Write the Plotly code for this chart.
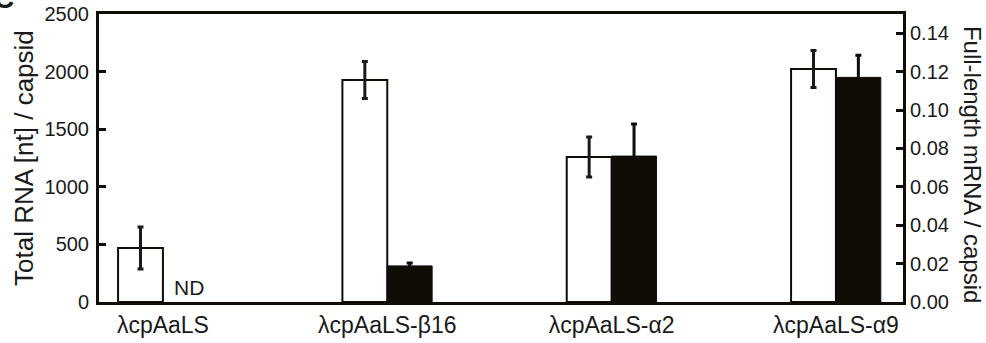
import plotly.graph_objects as go

categories = ["λcpAaLS", "λcpAaLS-β16", "λcpAaLS-α2", "λcpAaLS-α9"]
total_rna = [469, 1927, 1259, 2023]
total_rna_err = [182, 160, 174, 160]
mrna = [None, 0.0188, 0.0760, 0.1170]
mrna_err = [None, 0.0015, 0.0167, 0.0115]
left_ticks = [0, 500, 1000, 1500, 2000, 2500]
right_ticks = [0.00, 0.02, 0.04, 0.06, 0.08, 0.10, 0.12, 0.14]

FONT = "Liberation Sans, Arial, Helvetica, sans-serif"
INK = "#1a1a1a"
DARK = "#100d06"

fig = go.Figure()
fig.add_trace(go.Bar(
    x=categories, y=total_rna, yaxis="y",
    width=0.2, offset=-0.2,
    marker=dict(color="white", line=dict(color=DARK, width=2)),
    error_y=dict(type="data", array=total_rna_err, color=INK, thickness=3, width=3),
    showlegend=False,
))
fig.add_trace(go.Bar(
    x=categories, y=mrna, yaxis="y2",
    width=0.2, offset=0,
    marker=dict(color=DARK, line=dict(color=DARK, width=1)),
    error_y=dict(type="data", array=mrna_err, color=DARK, thickness=3, width=3),
    showlegend=False,
))

fig.update_layout(
    width=986, height=343,
    margin=dict(l=99, r=83, t=14, b=41, autoexpand=False),
    paper_bgcolor="white", plot_bgcolor="white",
    font=dict(family=FONT, color=INK),
    xaxis=dict(
        type="category", range=[-0.285, 3.299], automargin=False,
        showline=True, linewidth=3, linecolor=DARK, mirror=True,
        ticks="", showgrid=False, zeroline=False,
        tickfont=dict(size=23, family=FONT, color=INK),
    ),
    yaxis=dict(
        range=[0, 2500], tickvals=left_ticks, automargin=False,
        ticklabeloverflow="allow", ticklabelstandoff=3,
        showline=True, linewidth=3, linecolor=DARK,
        ticks="inside", ticklen=7, tickwidth=3, tickcolor=DARK,
        showgrid=False, zeroline=False,
        tickfont=dict(size=20, family=FONT, color=INK),
    ),
    yaxis2=dict(
        overlaying="y", side="right", automargin=False,
        ticklabeloverflow="allow",
        range=[0, 0.15], tickvals=right_ticks, tickformat=".2f",
        showline=True, linewidth=3, linecolor=DARK,
        ticks="inside", ticklen=7, tickwidth=3, tickcolor=DARK,
        showgrid=False, zeroline=False,
        tickfont=dict(size=20, family=FONT, color=INK),
    ),
    annotations=[
        dict(text="Total RNA [nt] / capsid", xref="paper", yref="paper",
             x=-0.0933, y=0.5, xanchor="center", yanchor="middle",
             textangle=-90, showarrow=False, font=dict(size=26, family=FONT, color=INK)),
        dict(text="Full-length mRNA / capsid", xref="paper", yref="paper",
             x=1.0858, y=0.476, xanchor="center", yanchor="middle",
             textangle=90, showarrow=False, font=dict(size=24, family=FONT, color=INK)),
        dict(text="ND", xref="x", yref="y", x=0.04, y=0,
             xanchor="left", yanchor="bottom", yshift=1, showarrow=False,
             font=dict(size=21, family=FONT, color=INK)),
        dict(text="<b>C</b>", xref="paper", yref="paper",
             x=(-8 - 99) / 804, y=(288 - 2) / 288,
             xanchor="left", yanchor="bottom", showarrow=False,
             font=dict(size=28, family=FONT, color=INK)),
    ],
)

fig.write_html("out.html", config={"displayModeBar": False},
               post_script="document.body.style.margin='0';")
